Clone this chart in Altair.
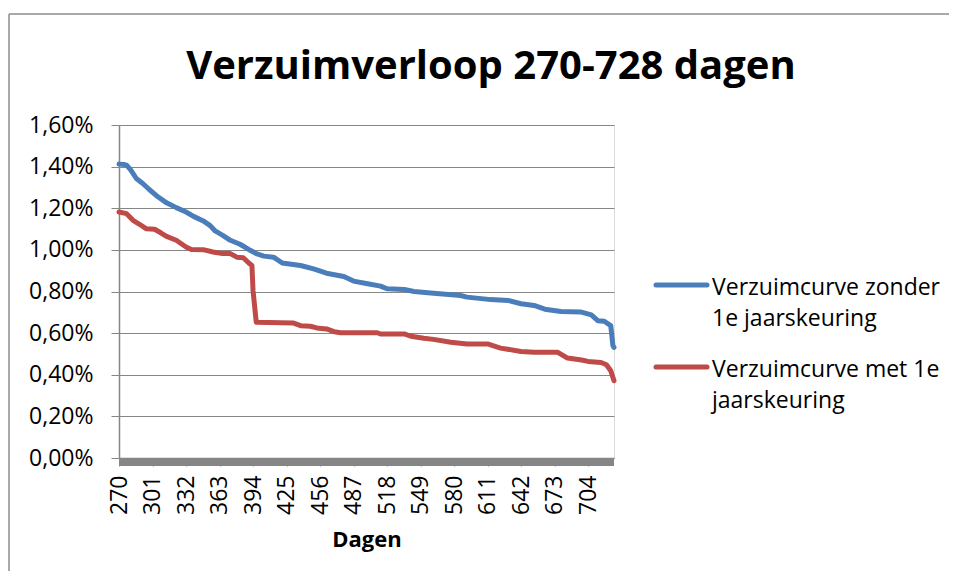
import altair as alt
import pandas as pd

# ---- data ----
blue_days = [270, 275, 277, 281, 286, 292, 298, 306, 314, 323, 332, 339, 348, 354, 359,
             366, 373, 382, 390, 397, 404, 413, 421, 438, 450, 462, 478, 487, 500, 512,
             518, 534, 543, 561, 586, 592, 614, 630, 642, 654, 664, 679, 697, 707, 713,
             719, 725, 727, 728]
blue_vals = [1.412, 1.410, 1.407, 1.383, 1.343, 1.319, 1.290, 1.255, 1.226, 1.203, 1.182,
             1.161, 1.139, 1.118, 1.091, 1.070, 1.046, 1.027, 1.002, 0.982, 0.970, 0.965,
             0.937, 0.925, 0.909, 0.888, 0.872, 0.850, 0.837, 0.826, 0.813, 0.810, 0.800,
             0.792, 0.781, 0.773, 0.761, 0.757, 0.741, 0.733, 0.715, 0.704, 0.702, 0.688,
             0.660, 0.657, 0.636, 0.540, 0.532]

red_days = [270, 277, 283, 289, 295, 303, 309, 314, 323, 332, 337, 348, 357, 366, 373,
            379, 385, 391, 393, 394, 397, 431, 438, 447, 453, 462, 469, 475, 509, 512,
            534, 540, 552, 561, 577, 592, 611, 623, 642, 654, 676, 685, 698, 704, 716,
            721, 725, 728]
red_vals = [1.182, 1.174, 1.142, 1.123, 1.102, 1.099, 1.081, 1.065, 1.046, 1.014, 1.002,
            1.001, 0.990, 0.982, 0.982, 0.965, 0.962, 0.933, 0.925, 0.805, 0.652, 0.649,
            0.636, 0.633, 0.625, 0.620, 0.607, 0.602, 0.602, 0.596, 0.596, 0.585, 0.575,
            0.570, 0.556, 0.548, 0.548, 0.528, 0.512, 0.508, 0.508, 0.480, 0.471, 0.464,
            0.459, 0.448, 0.419, 0.371]

series_names = ["Verzuimcurve zonder 1e jaarskeuring", "Verzuimcurve met 1e jaarskeuring"]
legend_lines = [["Verzuimcurve zonder", "1e jaarskeuring"],
                ["Verzuimcurve met 1e", "jaarskeuring"]]
series_colors = ["#4A7EBB", "#BE4B48"]
x_tick_values = [270, 301, 332, 363, 394, 425, 456, 487, 518, 549, 580, 611, 642, 673, 704]
y_tick_values = [0.0, 0.2, 0.4, 0.6, 0.8, 1.0, 1.2, 1.4, 1.6]
title_text = "Verzuimverloop 270-728 dagen"
x_title = "Dagen"
day_range = [270, 728]

FONT = "Open Sans"
GRAY = "#868686"
FS = 23

rows = []
for d, v in zip(blue_days, blue_vals):
    rows.append({"dag": d, "pct": v, "serie": series_names[0]})
for d, v in zip(red_days, red_vals):
    rows.append({"dag": d, "pct": v, "serie": series_names[1]})
df = pd.DataFrame(rows)

xscale = alt.Scale(domain=day_range, nice=False, zero=False)
yscale = alt.Scale(domain=[0, 1.6], nice=False)

xaxis = alt.Axis(values=x_tick_values, labelAngle=270, grid=False, labelOverlap=False,
                 labelBound=False, labelFlush=False,
                 tickSize=8, tickColor=GRAY, domainColor=GRAY, domainWidth=1.5,
                 labelPadding=9, labelFont=FONT, labelFontSize=FS, labelColor="black",
                 title=x_title, titleFont=FONT, titleFontSize=22, titleFontWeight="bold",
                 titleColor="black", titlePadding=15)

lines = alt.Chart(df).mark_line(strokeWidth=5, strokeCap="round", strokeJoin="round").encode(
    x=alt.X("dag:Q", scale=xscale, axis=xaxis),
    y=alt.Y("pct:Q", scale=yscale,
            axis=alt.Axis(values=y_tick_values, grid=True, gridColor=GRAY, gridWidth=1.2,
                          tickSize=8, tickColor=GRAY, domainColor=GRAY, domainWidth=1.5,
                          labelPadding=18, labelFont=FONT, labelFontSize=FS, labelColor="black",
                          labelExpr="replace(format(datum.value, '.2f'), '.', ',') + '%'",
                          title=None)),
    color=alt.Color("serie:N", scale=alt.Scale(domain=series_names, range=series_colors),
                    legend=None),
    order=alt.Order("dag:Q"),
)

band_df = pd.DataFrame({"dag": [day_range[0]], "dag_end": [day_range[1]]})
band = alt.Chart(band_df).mark_rect(color=GRAY).encode(
    x=alt.X("dag:Q", scale=xscale, axis=xaxis), x2="dag_end:Q",
    y=alt.value(333), y2=alt.value(341),
)

one = pd.DataFrame({"t": [title_text]})
title = alt.Chart(one).mark_text(font=FONT, fontSize=40, fontWeight="bold", color="black",
                                 align="center", baseline="alphabetic").encode(
    x=alt.value(372), y=alt.value(-46), text="t:N")

border_top = alt.Chart(one).mark_rule(color="#8c8c8c", strokeWidth=1.5).encode(
    x=alt.value(-110), x2=alt.value(840), y=alt.value(-111))
border_left = alt.Chart(one).mark_rule(color="#8c8c8c", strokeWidth=1.5).encode(
    x=alt.value(-110), y=alt.value(-111), y2=alt.value(460))

legend_layers = []
leg_y = [160, 242]
for i in range(2):
    ldf = pd.DataFrame({"l1": [legend_lines[i][0]], "l2": [legend_lines[i][1]]})
    legend_layers.append(alt.Chart(ldf).mark_rule(color=series_colors[i], strokeWidth=5,
                                                  strokeCap="round").encode(
        x=alt.value(537), x2=alt.value(588), y=alt.value(leg_y[i])))
    legend_layers.append(alt.Chart(ldf).mark_text(font=FONT, fontSize=FS, color="black",
                                                  align="left", baseline="alphabetic").encode(
        x=alt.value(593), y=alt.value(leg_y[i] + 10), text="l1:N"))
    legend_layers.append(alt.Chart(ldf).mark_text(font=FONT, fontSize=FS, color="black",
                                                  align="left", baseline="alphabetic").encode(
        x=alt.value(593), y=alt.value(leg_y[i] + 41), text="l2:N"))

chart = alt.layer(lines, band, border_top, border_left, title, *legend_layers).properties(
    width=495, height=333,
    autosize=alt.AutoSizeParams(type="none"),
    padding={"left": 111, "top": 117, "right": 335, "bottom": 113},
).configure_view(stroke=None).configure(background="white")

chart.save("out.html", embed_options={"renderer": "svg", "actions": False})
